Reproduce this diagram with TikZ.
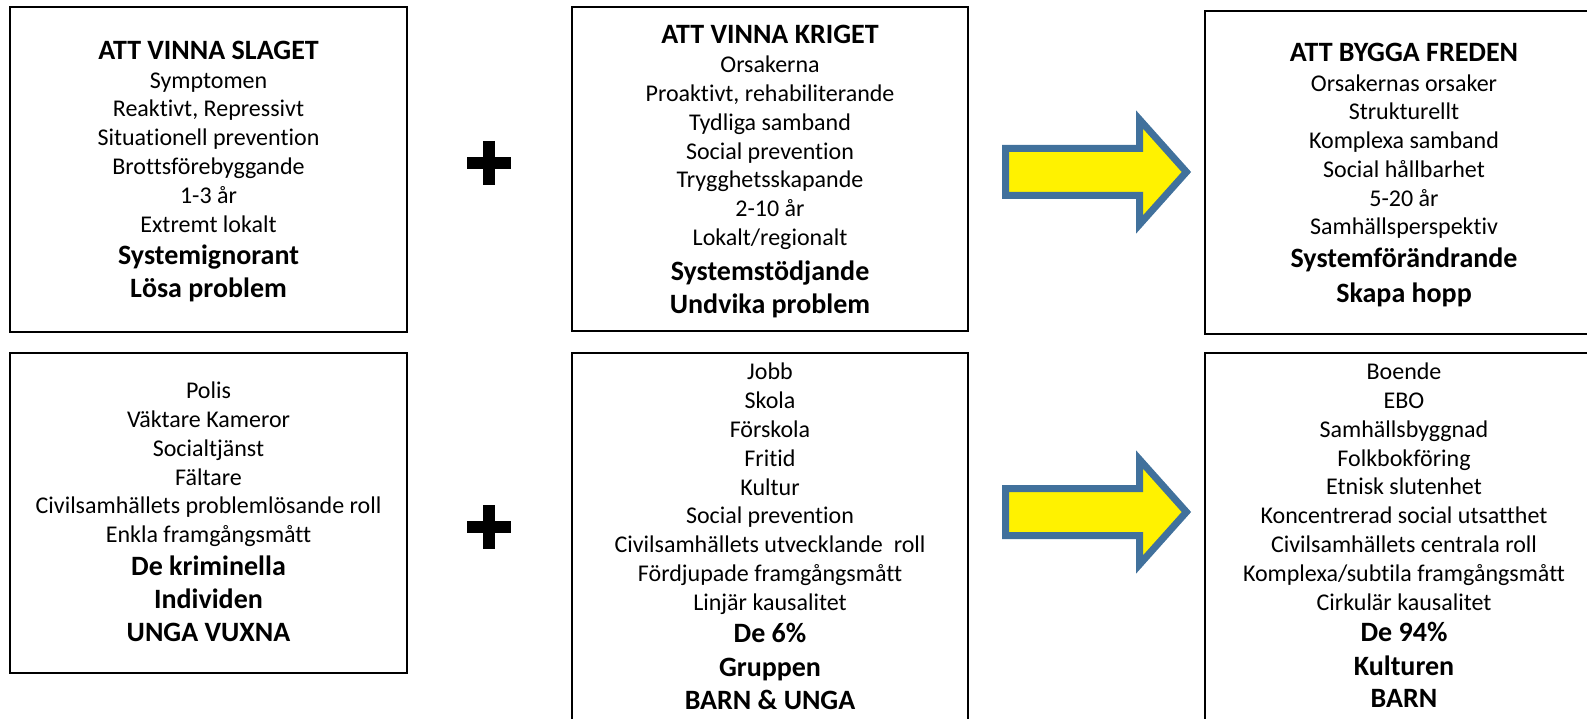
\documentclass[tikz,border=0pt]{standalone}
\usepackage{fontspec}
\setmainfont[Ligatures={NoCommon}]{Carlito}
\definecolor{arrowblue}{HTML}{41719C}
\begin{document}
\begin{tikzpicture}[x=1pt,y=-1pt,
  box/.style={draw=black, line width=2pt, rectangle, inner sep=0pt, outer sep=0pt, anchor=north west},
  tx/.style={anchor=base, inner sep=0pt, font=\fontsize{24}{29}\selectfont},
  tb/.style={anchor=base, inner sep=0pt, font=\fontsize{28}{33}\selectfont\bfseries},
  bigarrow/.style={draw=arrowblue, fill=yellow, line width=7pt, miter limit=20},
  plusbar/.style={draw=black, line width=12pt}]
\useasboundingbox (0,0) rectangle (1587,719);
\clip (0,0) rectangle (1587,719);

% boxes
\node[box, minimum width=397pt, minimum height=325pt] (b1) at (10,7) {};
\node[box, minimum width=396pt, minimum height=324pt] (b2) at (572,7) {};
\node[box, minimum width=398pt, minimum height=323pt] (b3) at (1205,11) {};
\node[box, minimum width=397pt, minimum height=320pt] (b4) at (10,353) {};
\node[box, minimum width=396pt, minimum height=380pt] (b5) at (572,353) {};
\node[box, minimum width=398pt, minimum height=380pt] (b6) at (1205,353) {};

% box 1
\node[tb] (t1a) at (208.5,60) {ATT VINNA SLAGET};
\node[tx] (t1b) at (208.5,89) {Symptomen};
\node[tx] (t1c) at (208.5,117) {Reaktivt, Repressivt};
\node[tx] (t1d) at (208.5,146) {Situationell prevention};
\node[tx] (t1e) at (208.5,175) {Brottsförebyggande};
\node[tx] (t1f) at (208.5,204) {1-3 år};
\node[tx] (t1g) at (208.5,233) {Extremt lokalt};
\node[tb] (t1h) at (208.5,265) {Systemignorant};
\node[tb] (t1i) at (208.5,298) {Lösa problem};

% box 2
\node[tb] (t2a) at (770,44) {ATT VINNA KRIGET};
\node[tx] (t2b) at (770,73) {Orsakerna};
\node[tx] (t2c) at (770,102) {Proaktivt, rehabiliterande};
\node[tx] (t2d) at (770,131) {Tydliga samband};
\node[tx] (t2e) at (770,160) {Social prevention};
\node[tx] (t2f) at (770,188) {Trygghetsskapande};
\node[tx] (t2g) at (770,217) {2-10 år};
\node[tx] (t2h) at (770,246) {Lokalt/regionalt};
\node[tb] (t2i) at (770,281) {Systemstödjande};
\node[tb] (t2j) at (770,313) {Undvika problem};

% box 3
\node[tb] (t3a) at (1404,62) {ATT BYGGA FREDEN};
\node[tx] (t3b) at (1404,92) {Orsakernas orsaker};
\node[tx] (t3c) at (1404,120) {Strukturellt};
\node[tx] (t3d) at (1404,149) {Komplexa samband};
\node[tx] (t3e) at (1404,178) {Social hållbarhet};
\node[tx] (t3f) at (1404,207) {5-20 år};
\node[tx] (t3g) at (1404,235) {Samhällsperspektiv};
\node[tb] (t3h) at (1404,268) {Systemförändrande};
\node[tb] (t3i) at (1404,302) {Skapa hopp};

% box 4
\node[tx] (t4a) at (208.5,398) {Polis};
\node[tx] (t4b) at (208.5,427) {Väktare Kameror};
\node[tx] (t4c) at (208.5,456) {Socialtjänst};
\node[tx] (t4d) at (208.5,485) {Fältare};
\node[tx] (t4e) at (208.5,513) {Civilsamhällets problemlösande roll};
\node[tx] (t4f) at (208.5,542) {Enkla framgångsmått};
\node[tb] (t4g) at (208.5,575) {De kriminella};
\node[tb] (t4h) at (208.5,608) {Individen};
\node[tb] (t4i) at (208.5,641) {UNGA VUXNA};

% box 5
\node[tx] (t5a) at (770,379) {Jobb};
\node[tx] (t5b) at (770,408) {Skola};
\node[tx] (t5c) at (770,437) {Förskola};
\node[tx] (t5d) at (770,466) {Fritid};
\node[tx] (t5e) at (770,495) {Kultur};
\node[tx] (t5f) at (770,523) {Social prevention};
\node[tx] (t5g) at (770,552) {Civilsamhällets utvecklande~ roll};
\node[tx] (t5h) at (770,581) {Fördjupade framgångsmått};
\node[tx] (t5i) at (770,610) {Linjär kausalitet};
\node[tb] (t5j) at (770,642) {De 6\%};
\node[tb] (t5k) at (770,676) {Gruppen};
\node[tb] (t5l) at (770,709) {BARN \& UNGA};

% box 6
\node[tx] (t6a) at (1404,379) {Boende};
\node[tx] (t6b) at (1404,408) {EBO};
\node[tx] (t6c) at (1404,437) {Samhällsbyggnad};
\node[tx] (t6d) at (1404,466) {Folkbokföring};
\node[tx] (t6e) at (1404,494) {Etnisk slutenhet};
\node[tx] (t6f) at (1404,523) {Koncentrerad social utsatthet};
\node[tx] (t6g) at (1404,552) {Civilsamhällets centrala roll};
\node[tx] (t6h) at (1404,581) {Komplexa/subtila framgångsmått};
\node[tx] (t6i) at (1404,610) {Cirkulär kausalitet};
\node[tb] (t6j) at (1404,641) {De 94\%};
\node[tb] (t6k) at (1404,675) {Kulturen};
\node[tb] (t6l) at (1404,707) {BARN};

% plus signs
\draw[plusbar] (467,163) -- (511,163);
\draw[plusbar] (489,141) -- (489,185);
\draw[plusbar] (467,527) -- (511,527);
\draw[plusbar] (489,505) -- (489,549);

% arrows
\foreach \dy in {0,340} {
  \begin{scope}[shift={(0,\dy)}]
    \draw[bigarrow] (1005.5,148.5) -- (1139.5,148.5) -- (1139.5,119.5) -- (1186.4,172)
      -- (1139.5,224.5) -- (1139.5,195.5) -- (1005.5,195.5) -- cycle;
  \end{scope}
}
\end{tikzpicture}
\end{document}
